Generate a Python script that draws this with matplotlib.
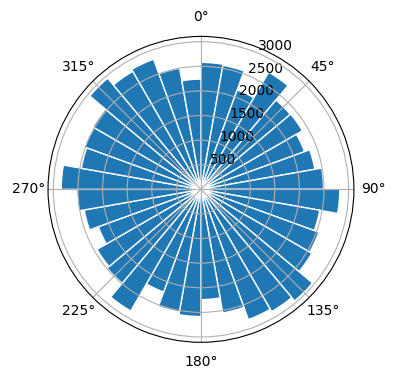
import numpy as np
import matplotlib
matplotlib.use('Agg')
import matplotlib.pyplot as plt

# direction bins (left edge, degrees) and counts per 10-degree sector
bin_left_deg = list(range(0, 360, 10))
counts = [2580, 2560, 2150, 2750, 2370, 2380, 2240, 2350, 2490,
          2820, 2450, 2550, 2600, 2960, 2870, 2815, 2550, 2240,
          2585, 2530, 2220, 2855, 2490, 2440, 2220, 2410, 2520,
          2840, 2470, 2520, 2535, 2950, 2770, 2815, 2500, 2240]

fig = plt.figure(figsize=(3.96, 3.8), dpi=100)
ax = fig.add_axes([0.1212, 0.0992, 0.7727, 0.805], projection='polar')
ax.set_theta_zero_location('N')
ax.set_theta_direction(-1)

theta = np.deg2rad(bin_left_deg)
ax.bar(theta, counts, width=np.deg2rad(10), align='edge',
       color='#1f77b4', edgecolor='white', linewidth=1)

fig.savefig('out.png', dpi=100)
